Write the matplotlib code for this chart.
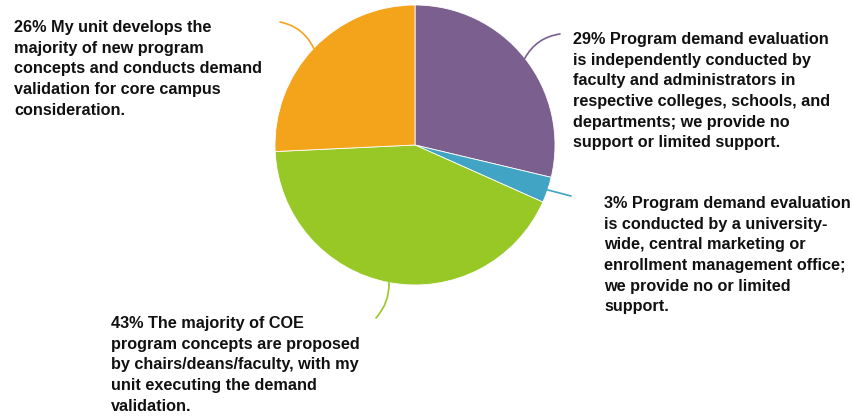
import numpy as np
import matplotlib
matplotlib.use('Agg')
import matplotlib.pyplot as plt

plt.rcParams['font.family'] = ['Liberation Sans', 'DejaVu Sans']

# slices, clockwise from 12 o'clock
shares = [29, 3, 43, 26]
labels = [
    "29% Program demand evaluation\nis independently conducted by\nfaculty and administrators in\nrespective colleges, schools, and\ndepartments; we provide no\nsupport or limited support.",
    "3% Program demand evaluation\nis conducted by a university-\nwide, central marketing or\nenrollment management office;\nwe provide no or limited\nsupport.",
    "43% The majority of COE\nprogram concepts are proposed\nby chairs/deans/faculty, with my\nunit executing the demand\nvalidation.",
    "26% My unit develops the\nmajority of new program\nconcepts and conducts demand\nvalidation for core campus\nconsideration.",
]
colors = ['#7B5F8E', '#42A4C4', '#97C826', '#F4A41B']

W, H = 853, 417
fig = plt.figure(figsize=(W / 100, H / 100), dpi=100)
ax = fig.add_axes([0, 0, 1, 1])

cx, cy, r = 415, H - 145, 140
wedges, _ = ax.pie(shares, colors=colors, startangle=90, counterclock=False,
                   center=(cx, cy), radius=r, frame=True,
                   wedgeprops=dict(edgecolor='white', linewidth=0.6))
ax.set_xlim(0, W)
ax.set_ylim(0, H)
ax.set_aspect('auto')
ax.axis('off')

# label anchor (left/top of text) and leader end, in pixels from top-left
text_pos = [(573, 32), (604, 196), (111, 316), (14, 20)]
line_end = [(560, 34), (571, 196), (376, 318), (280, 22)]
rads = [0.25, 0.0, 0.2, -0.25]

for w, lab, c, (tx, ty), (lx, ly), rad in zip(wedges, labels, colors, text_pos, line_end, rads):
    ang = np.deg2rad((w.theta1 + w.theta2) / 2)
    p = (cx + r * np.cos(ang), cy + r * np.sin(ang))
    ax.annotate('', xy=p, xytext=(lx, H - ly),
                arrowprops=dict(arrowstyle='-', color=c, lw=1.2,
                                connectionstyle=f'arc3,rad={rad}',
                                shrinkA=0, shrinkB=0))
    ax.text(tx, H - ty, lab, ha='left', va='top', fontsize=11.7,
            fontweight='bold', color='#111111', linespacing=1.47)

fig.savefig('out.png', dpi=100)
